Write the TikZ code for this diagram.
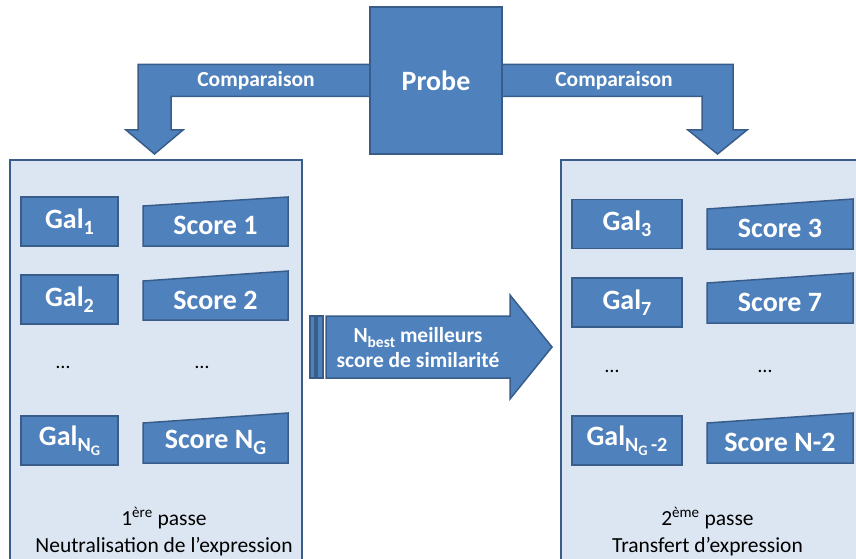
\documentclass[tikz,border=0pt]{standalone}
\usepackage{fontspec}
\setmainfont{Carlito}
\usepackage{tikz}
\usetikzlibrary{calc,backgrounds}

\definecolor{boxblue}{HTML}{4F81BD}
\definecolor{boxline}{HTML}{385D8A}
\definecolor{panelfill}{HTML}{DCE6F2}

\makeatletter
\newcommand\lowidx[1]{\raisebox{-0.2em}{\fontsize{\the\dimexpr0.72\dimexpr\f@size pt\relax\relax}{0pt}\selectfont #1}}
\makeatother

\tikzset{
  blueshape/.style={fill=boxblue,draw=boxline,line width=1.5pt},
  galbox/.style={blueshape,minimum width=#1,minimum height=49pt,inner sep=0pt,outer sep=0pt,
    text=white,font=\fontsize{28}{30}\selectfont\bfseries},
  galbox/.default=97pt,
  scoretext/.style={inner sep=0pt,text=white,font=\fontsize{28}{30}\selectfont\bfseries},
  panel/.style={fill=panelfill,draw=boxline,line width=1.5pt,outer sep=0pt,anchor=north west},
  bandtext/.style={text=white,align=center,font=\fontsize{21.5}{25}\selectfont\bfseries},
  passtext/.style={anchor=base,font=\fontsize{21.5}{25}\selectfont},
  dotstext/.style={anchor=base,font=\fontsize{20}{22}\selectfont}
}

\begin{document}
\begin{tikzpicture}[x=1pt,y=-1pt]
\useasboundingbox (0,0) rectangle (856,559);
\clip (0,0) rectangle (856,559);

\node[panel,minimum width=292pt,minimum height=420pt] (pass1) at (10,160) {};
\node[panel,minimum width=320pt,minimum height=420pt] (pass2) at (561,160) {};

\node[blueshape,minimum width=132pt,minimum height=147pt,outer sep=0pt,text=white,
  font=\fontsize{28}{30}\selectfont\bfseries] (probe) at (436,80.5) {Probe};

\begin{scope}[on background layer]
  \path[blueshape] ($(probe.west)+(0,-16)$) -| (138,130) -- (126,130) -- (154.5,154)
    -- (183,130) -- (171,130) |- ($(probe.west)+(0,16)$) -- cycle;
  \path[blueshape] ($(probe.east)+(0,-16)$) -| (733,130) -- (747,130) -- (717.5,154)
    -- (688,130) -- (702,130) |- ($(probe.east)+(0,16)$) -- cycle;
\end{scope}
\node[bandtext] (cmp1) at (256,80.5) {Comparaison};
\node[bandtext] (cmp2) at (614,80.5) {Comparaison};

\foreach \i/\gy/\sl/\sr/\sb/\g/\s in {
  1/221.5/206/197/246/{Gal\lowidx{1}}/{Score 1},
  2/299.5/281/271/320/{Gal\lowidx{2}}/{Score 2},
  3/440.5/423/413/463/{Gal\lowidx{N\lowidx{G}}}/{Score N\lowidx{G}}}{
  \node[galbox] (galL\i) at (69.5,\gy) {\g};
  \path[blueshape] (143,\sb) -- (288,\sb) -- (288,\sr) -- (143,\sl) -- cycle;
  \node[scoretext] (scoreL\i) at (215.5,{(\sb+(\sl+\sr)/2)/2+2}) {\s};
}
\foreach \i/\gy/\sl/\sr/\sb/\g/\s in {
  1/224/209/199/249/{Gal\lowidx{3}}/{Score 3},
  2/302.5/283/273/323/{Gal\lowidx{7}}/{Score 7},
  3/440.5/423/413/463/{Gal\lowidx{N\lowidx{G}\,-2}}/{Score N-2}}{
  \node[galbox=110pt] (galR\i) at (627,\gy) {\g};
  \path[blueshape] (707,\sb) -- (853,\sb) -- (853,\sr) -- (707,\sl) -- cycle;
  \node[scoretext] (scoreR\i) at (780,{(\sb+(\sl+\sr)/2)/2+2}) {\s};
}

\node[dotstext] (dotsL1) at (63,368) {…};
\node[dotstext] (dotsL2) at (202,368) {…};
\node[dotstext] (dotsR1) at (612,372) {…};
\node[dotstext] (dotsR2) at (765,372) {…};

\path[blueshape] (310,316) rectangle (315,378);
\path[blueshape] (317,316) rectangle (323,378);
\path[blueshape] (326,316) -- (510,316) -- (510,295) -- (552,347) -- (510,399)
  -- (510,378) -- (326,378) -- cycle;
\node[bandtext] (best) at (418,348) {N\lowidx{best} meilleurs\\score de similarité};

\node[passtext] (pass1a) at (164,525) {1\textsuperscript{ère} passe};
\node[passtext] (pass1b) at (164,552) {Neutralisation de l’expression};
\node[passtext] (pass2a) at (707.5,525) {2\textsuperscript{ème} passe};
\node[passtext] (pass2b) at (707.5,552) {Transfert d’expression};
\end{tikzpicture}
\end{document}
